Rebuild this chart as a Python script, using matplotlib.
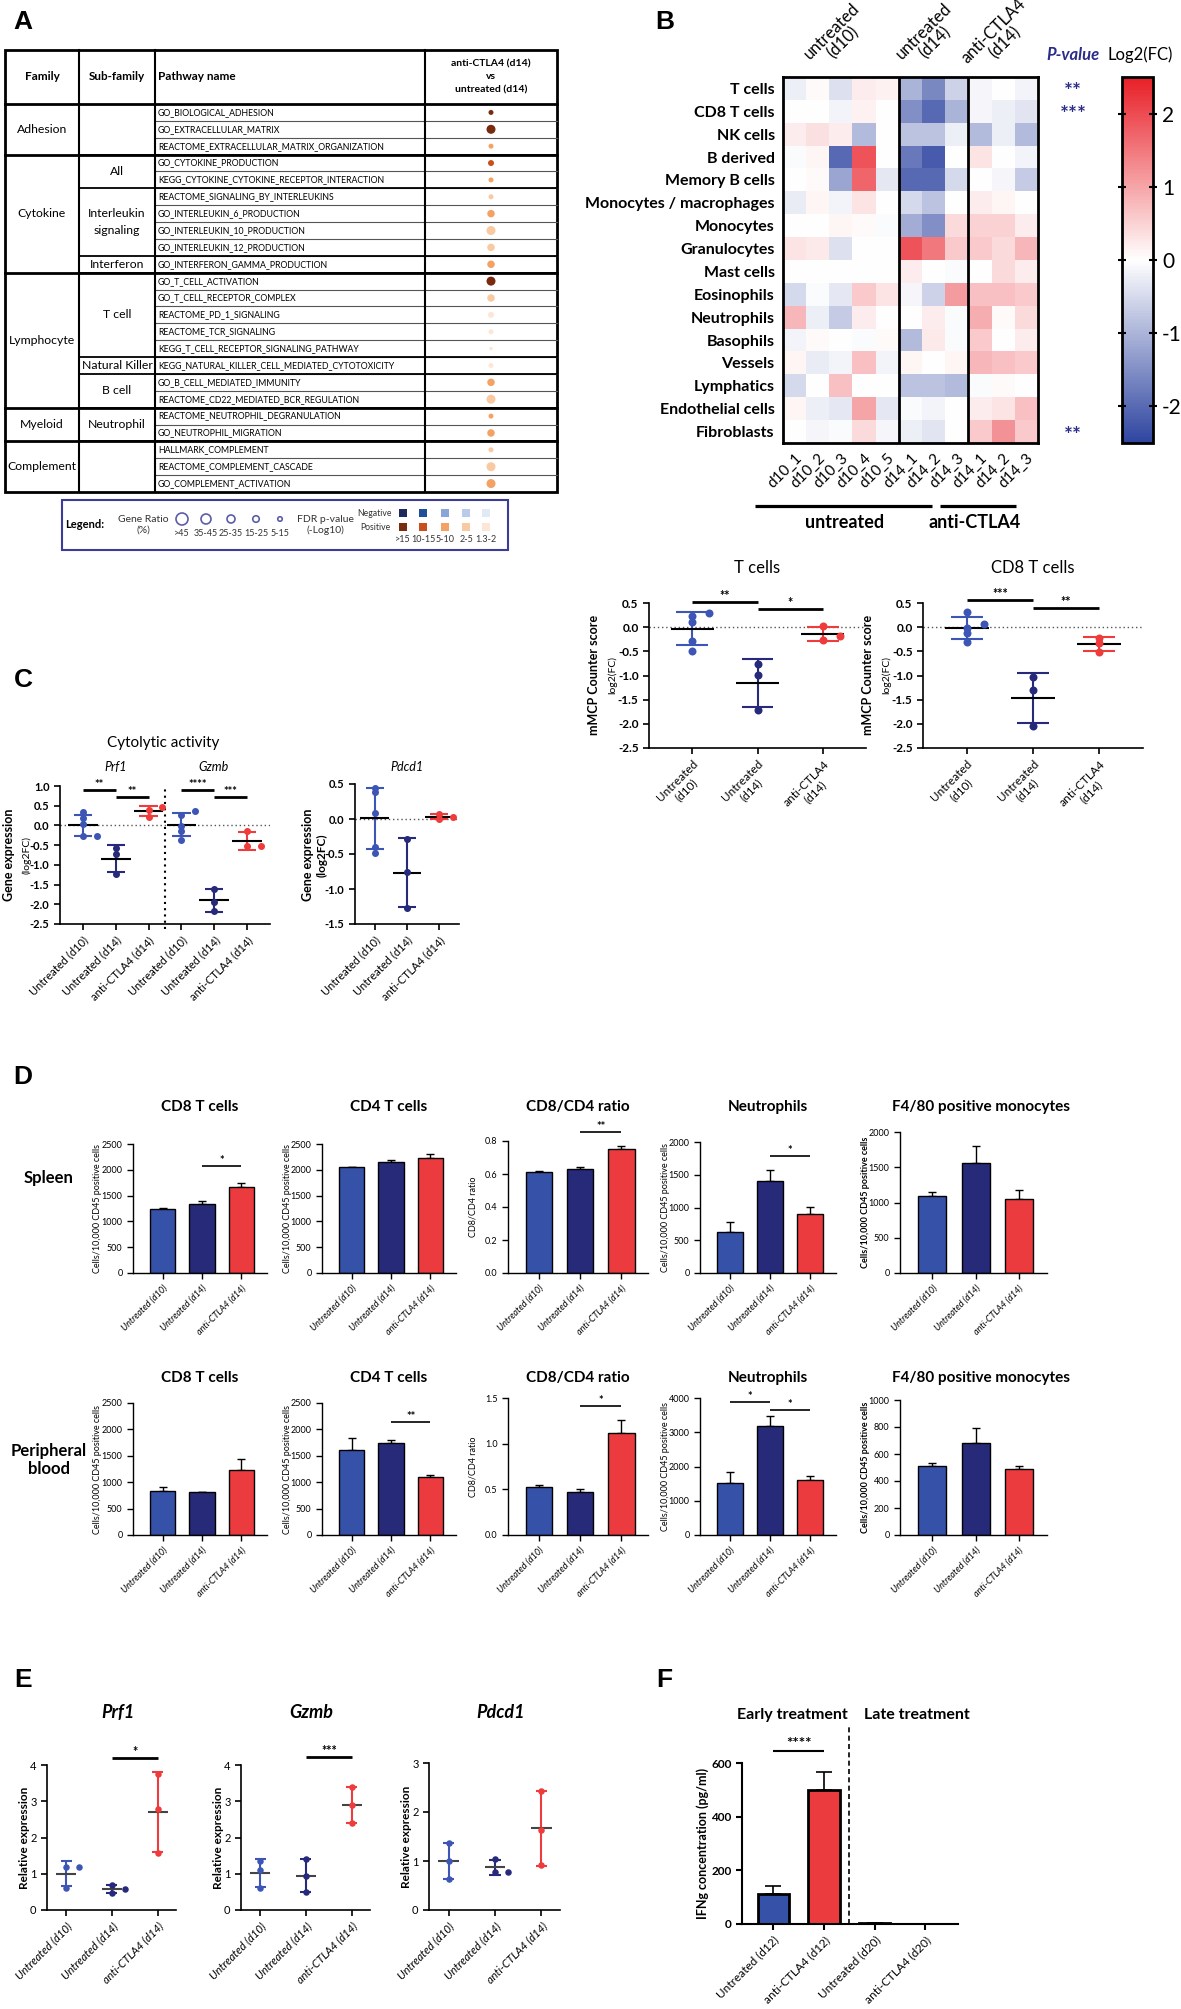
import numpy as np
import matplotlib
matplotlib.use('Agg')
import matplotlib.pyplot as plt
from matplotlib.colors import LinearSegmentedColormap
from matplotlib.patches import Rectangle

plt.rcParams['font.family'] = ['Lato', 'DejaVu Sans']
plt.rcParams['axes.unicode_minus'] = False

# ---------------- data ----------------
# panel A
families = ['Adhesion', 'Cytokine', 'Lymphocyte', 'Myeloid', 'Complement']
family_rows = [3, 7, 8, 2, 3]
subfamilies = ['', 'All', 'Interleukin\nsignaling', 'Interferon', 'T cell', 'Natural Killer', 'B cell', 'Neutrophil', '']
subfamily_rows = [3, 2, 4, 1, 5, 1, 2, 2, 3]
pathways = ['GO_BIOLOGICAL_ADHESION', 'GO_EXTRACELLULAR_MATRIX', 'REACTOME_EXTRACELLULAR_MATRIX_ORGANIZATION',
            'GO_CYTOKINE_PRODUCTION', 'KEGG_CYTOKINE_CYTOKINE_RECEPTOR_INTERACTION',
            'REACTOME_SIGNALING_BY_INTERLEUKINS', 'GO_INTERLEUKIN_6_PRODUCTION', 'GO_INTERLEUKIN_10_PRODUCTION',
            'GO_INTERLEUKIN_12_PRODUCTION', 'GO_INTERFERON_GAMMA_PRODUCTION', 'GO_T_CELL_ACTIVATION',
            'GO_T_CELL_RECEPTOR_COMPLEX', 'REACTOME_PD_1_SIGNALING', 'REACTOME_TCR_SIGNALING',
            'KEGG_T_CELL_RECEPTOR_SIGNALING_PATHWAY', 'KEGG_NATURAL_KILLER_CELL_MEDIATED_CYTOTOXICITY',
            'GO_B_CELL_MEDIATED_IMMUNITY', 'REACTOME_CD22_MEDIATED_BCR_REGULATION',
            'REACTOME_NEUTROPHIL_DEGRANULATION', 'GO_NEUTROPHIL_MIGRATION', 'HALLMARK_COMPLEMENT',
            'REACTOME_COMPLEMENT_CASCADE', 'GO_COMPLEMENT_ACTIVATION']
gene_ratio_class = [3, 0, 3, 2, 3, 3, 1, 0, 1, 1, 0, 1, 2, 3, 4, 3, 1, 0, 3, 1, 3, 0, 0]
fdr_class = [0, 0, 2, 1, 2, 3, 2, 3, 3, 2, 0, 3, 4, 4, 4, 4, 2, 3, 2, 2, 3, 3, 2]
ratio_labels = ['>45', '35-45', '25-35', '15-25', '5-15']
fdr_labels = ['>15', '10-15', '5-10', '2-5', '1.3-2']
pos_colors = ['#7a2a0e', '#c9501d', '#f4a263', '#f9c9a1', '#fde6d6']
neg_colors = ['#1d2a5e', '#1f4e9c', '#8aa6d8', '#b9cbe9', '#e1e9f6']

# panel B heatmap
cell_types = ['T cells', 'CD8 T cells', 'NK cells', 'B derived', 'Memory B cells', 'Monocytes / macrophages',
              'Monocytes', 'Granulocytes', 'Mast cells', 'Eosinophils', 'Neutrophils', 'Basophils',
              'Vessels', 'Lymphatics', 'Endothelial cells', 'Fibroblasts']
samples = ['d10_1', 'd10_2', 'd10_3', 'd10_4', 'd10_5', 'd14_1', 'd14_2', 'd14_3', 'd14_1', 'd14_2', 'd14_3']
sample_groups = ['untreated\n(d10)', 'untreated\n(d14)', 'anti-CTLA4\n(d14)']
group_sizes = [5, 3, 3]
log2fc = [
    [-0.2, 0.05, -0.4, 0.2, 0.15, -1.0, -1.6, -0.6, -0.1, 0.0, -0.15],
    [0.0, 0.0, -0.15, 0.15, 0.0, -1.5, -2.0, -1.0, -0.1, -0.2, -0.35],
    [0.2, 0.35, 0.2, -0.9, 0.0, -0.8, -0.8, -0.2, -0.9, -0.2, -0.9],
    [-0.05, 0.1, -2.0, 1.9, 0.0, -1.8, -2.2, 0.0, 0.3, 0.0, -0.15],
    [0.0, 0.05, -1.2, 1.7, -0.3, -2.0, -2.0, -0.5, 0.0, -0.1, -0.7],
    [-0.25, 0.1, -0.15, 0.3, 0.0, -0.5, -0.8, 0.0, 0.2, 0.1, 0.0],
    [0.0, 0.0, 0.1, 0.05, -0.05, -1.1, -1.5, 0.4, 0.5, 0.5, 0.2],
    [0.3, 0.25, -0.4, 0.0, 0.0, 1.9, 1.5, 0.6, 0.6, 0.4, 0.8],
    [0.0, 0.0, 0.0, 0.0, 0.0, 0.2, 0.0, -0.05, 0.0, 0.4, 0.2],
    [-0.5, -0.05, -0.3, 0.6, 0.3, -0.1, -0.6, 1.1, 0.7, 0.7, 0.6],
    [0.8, -0.2, -0.7, 0.2, 0.0, 0.0, 0.2, -0.05, 0.9, 0.05, 0.4],
    [-0.15, 0.05, 0.0, -0.05, 0.05, -0.9, 0.25, -0.05, 0.6, 0.0, 0.2],
    [0.1, -0.25, -0.15, 0.7, -0.15, 0.1, 0.0, 0.1, 0.8, 0.7, 0.6],
    [-0.5, 0.0, 0.7, 0.0, 0.0, -0.8, -0.8, -0.9, -0.05, 0.05, 0.0],
    [0.1, -0.2, -0.3, 1.0, -0.3, -0.05, -0.15, 0.0, 0.2, 0.3, 0.7],
    [0.0, -0.1, -0.05, 0.4, -0.1, -0.2, -0.35, 0.0, 0.6, 1.2, 0.6],
]
cell_pvalue = ['**', '***', '', '', '', '', '', '', '', '', '', '', '', '', '', '**']

# panel B lower (mMCP counter, log2FC)
tcell_scores = [[0.30, 0.23, 0.10, -0.28, -0.49], [-0.77, -0.98, -1.71], [0.02, -0.18, -0.27]]
cd8_scores = [[0.31, 0.07, -0.02, -0.13, -0.31], [-1.03, -1.31, -2.04], [-0.22, -0.33, -0.51]]
group_labels_2l = ['Untreated\n(d10)', 'Untreated\n(d14)', 'anti-CTLA4\n(d14)']

# panel C (gene expression log2FC)
prf1_c = [[0.33, 0.18, 0.03, -0.27, -0.27], [-0.57, -0.73, -1.22], [0.46, 0.40, 0.22]]
gzmb_c = [[0.37, 0.26, -0.02, -0.14, -0.37], [-1.60, -1.95, -2.16], [-0.14, -0.52, -0.52]]
pdcd1_c = [[0.45, 0.38, 0.09, -0.40, -0.48], [-0.28, -0.75, -1.27], [0.07, 0.03, 0.0]]
group_labels = ['Untreated (d10)', 'Untreated (d14)', 'anti-CTLA4 (d14)']

# panel D (cells / 10,000 CD45+ cells, mean and SEM)
d_titles = ['CD8 T cells', 'CD4 T cells', 'CD8/CD4 ratio', 'Neutrophils', 'F4/80 positive monocytes']
spleen_mean = [[1250, 1335, 1670], [2045, 2150, 2235], [0.615, 0.628, 0.753], [625, 1405, 900], [1095, 1565, 1050]]
spleen_sem = [[15, 55, 80], [10, 45, 75], [0.006, 0.015, 0.015], [155, 165, 110], [55, 230, 125]]
blood_mean = [[840, 810, 1230], [1605, 1740, 1095], [0.53, 0.47, 1.12], [1520, 3170, 1620], [510, 680, 490]]
blood_sem = [[75, 12, 210], [230, 60, 40], [0.02, 0.03, 0.14], [330, 290, 110], [25, 110, 20]]
spleen_sig = [[(1, 2, 2080, '*')], [], [(1, 2, 0.855, '**')], [(1, 2, 1780, '*')], []]
blood_sig = [[], [(1, 2, 2140, '**')], [(1, 2, 1.41, '*')], [(0, 1, 3890, '*'), (1, 2, 3640, '*')], []]

# panel E (relative expression)
prf1_e = [[1.2, 1.2, 0.6], [0.68, 0.58, 0.46], [3.74, 2.8, 1.56]]
gzmb_e = [[1.35, 1.1, 0.6], [1.4, 0.95, 0.5], [3.4, 2.9, 2.39]]
pdcd1_e = [[1.36, 1.0, 0.63], [1.05, 0.78, 0.78], [2.43, 1.64, 0.92]]

# panel F (IFNg pg/ml)
f_labels = ['Untreated (d12)', 'anti-CTLA4 (d12)', 'Untreated (d20)', 'anti-CTLA4 (d20)']
ifng_mean = [110, 500, 3, 0]
ifng_sem = [32, 65, 0, 0]

C_D10, C_D14, C_ANTI = '#3d56b5', '#27297a', '#ee3b3b'
grp_colors = [C_D10, C_D14, C_ANTI]

# ---------------- figure ----------------
W, H = 1181, 2009
fig = plt.figure(figsize=(W / 100, H / 100), dpi=100)


def add_ax(x0, y0, x1, y1):
    return fig.add_axes([x0 / W, 1 - y1 / H, (x1 - x0) / W, (y1 - y0) / H])


# overlay in pixel coordinates for table, labels and annotations (drawn on top, transparent)
bg = fig.add_axes([0, 0, 1, 1])
bg.set_xlim(0, W)
bg.set_ylim(H, 0)
bg.axis('off')
bg.patch.set_visible(False)
bg.set_zorder(10)

for lab, x, y in [('A', 23, 22), ('B', 665, 22), ('C', 23, 680), ('D', 23, 1077), ('E', 23, 1680), ('F', 664, 1680)]:
    bg.text(x, y, lab, fontsize=19, fontweight='bold', ha='center', va='center', family='Liberation Sans')


def px_s(d):
    # marker diameter in pixels -> scatter size
    return (d * 0.72) ** 2


# ---------------- panel A ----------------
cx = [5, 79, 155, 425, 557]
t_top, h_bot, t_bot = 50, 104, 492
n = len(pathways)
rh = (t_bot - h_bot) / n


def ry(i):
    return h_bot + i * rh


for i in range(1, n):
    bg.plot([cx[2], cx[4]], [ry(i)] * 2, color='#555555', lw=0.8)
for c in np.cumsum(subfamily_rows)[:-1]:
    bg.plot([cx[1], cx[4]], [ry(c)] * 2, color='black', lw=1.3)
for c in np.cumsum(family_rows)[:-1]:
    bg.plot([cx[0], cx[4]], [ry(c)] * 2, color='black', lw=2)
bg.plot([cx[0], cx[4]], [h_bot] * 2, color='black', lw=2)
for x in cx[1:4]:
    bg.plot([x, x], [t_top, t_bot], color='black', lw=1.5)
bg.add_patch(Rectangle((cx[0], t_top), cx[4] - cx[0], t_bot - t_top, fill=False, lw=2, ec='black'))

hy = (t_top + h_bot) / 2
bg.text((cx[0] + cx[1]) / 2, hy, 'Family', ha='center', va='center', fontsize=8.5, fontweight='bold')
bg.text((cx[1] + cx[2]) / 2, hy, 'Sub-family', ha='center', va='center', fontsize=8.5, fontweight='bold')
bg.text(cx[2] + 3, hy, 'Pathway name', ha='left', va='center', fontsize=8.5, fontweight='bold')
bg.text((cx[3] + cx[4]) / 2, hy, 'anti-CTLA4 (d14)\nvs\nuntreated (d14)', ha='center', va='center',
        fontsize=7.5, fontweight='bold', linespacing=1.6)

start = 0
for name, k in zip(families, family_rows):
    bg.text((cx[0] + cx[1]) / 2, ry(start + k / 2), name, ha='center', va='center', fontsize=8.8)
    start += k
start = 0
for name, k in zip(subfamilies, subfamily_rows):
    bg.text((cx[1] + cx[2]) / 2, ry(start + k / 2), name, ha='center', va='center', fontsize=8.8, linespacing=1.6)
    start += k
ratio_px = [9, 7.5, 6, 5, 3.5]
for i, name in enumerate(pathways):
    bg.text(cx[2] + 3, ry(i + 0.5), name, ha='left', va='center', fontsize=6.3)
bg.scatter([(cx[3] + cx[4]) / 2] * n, [ry(i + 0.5) for i in range(n)],
           s=[px_s(ratio_px[c]) for c in gene_ratio_class], c=[pos_colors[c] for c in fdr_class],
           edgecolors='none', zorder=3)

# legend box
bg.add_patch(Rectangle((62, 500), 446, 50, fill=False, lw=1.5, ec='#3b3b98'))
bg.text(85, 525, 'Legend:', ha='center', va='center', fontsize=8, fontweight='bold')
bg.text(143, 525, 'Gene Ratio\n(%)', ha='center', va='center', fontsize=7.5, color='#333333')
leg_px = [12, 10, 8, 6.5, 4.5]
lx = [182, 206, 231, 256, 280]
bg.scatter(lx, [519] * 5, s=[px_s(d) for d in leg_px], facecolors='none', edgecolors='#5b5ea6', lw=1.2)
for x, t in zip(lx, ratio_labels):
    bg.text(x, 534, t, ha='center', va='center', fontsize=6.5, color='#333333')
bg.text(325, 525, 'FDR p-value\n(-Log10)', ha='center', va='center', fontsize=7.5, color='#333333')
bg.text(375, 513, 'Negative', ha='center', va='center', fontsize=6.2, color='#333333')
bg.text(375, 527, 'Positive', ha='center', va='center', fontsize=6.2, color='#333333')
sx = [403, 423, 445, 466, 486]
bg.scatter(sx, [513] * 5, s=px_s(8), marker='s', c=neg_colors, edgecolors='none')
bg.scatter(sx, [527] * 5, s=px_s(8), marker='s', c=pos_colors, edgecolors='none')
for x, t in zip(sx, fdr_labels):
    bg.text(x, 540, t, ha='center', va='center', fontsize=6.5, color='#333333')

# ---------------- panel B heatmap ----------------
hx0, hy0, hx1, hy1 = 783, 77, 1038, 443
axH = add_ax(hx0, hy0, hx1, hy1)
cmap = LinearSegmentedColormap.from_list('bwr2', ['#2f45a0', '#ffffff', '#e81f27'])
im = axH.imshow(np.array(log2fc), cmap=cmap, vmin=-2.5, vmax=2.5, aspect='auto', interpolation='nearest')
axH.set_yticks(range(len(cell_types)))
axH.set_yticklabels(cell_types, fontsize=11.5, fontweight='bold')
axH.set_xticks(range(len(samples)))
axH.set_xticklabels(samples, rotation=45, ha='right', rotation_mode='anchor', fontsize=11)
axH.tick_params(length=0, pad=6)
for s in axH.spines.values():
    s.set_linewidth(2)
edges = np.cumsum(group_sizes)
for e in edges[:-1]:
    axH.axvline(e - 0.5, color='black', lw=2)
cw = (hx1 - hx0) / len(samples)
chh = (hy1 - hy0) / len(cell_types)
st = 0
for g, k in zip(sample_groups, group_sizes):
    bg.text(hx0 + (st + k / 2) * cw - 4, 37, g, rotation=45, ha='center', va='center', fontsize=12,
            linespacing=1.0, multialignment='center')
    st += k
bg.text(1073, 55, 'P-value', ha='center', va='center', fontsize=12, fontweight='bold', fontstyle='italic',
        color='#2b2d8a')
bg.text(1140, 55, 'Log2(FC)', ha='center', va='center', fontsize=12)
for i, p in enumerate(cell_pvalue):
    if p:
        bg.text(1073, hy0 + (i + 0.5) * chh + 4, p, ha='center', va='center', fontsize=15, fontweight='bold',
                color='#2b2d8a')
cax = add_ax(1122, 77, 1153, 443)
cb = fig.colorbar(im, cax=cax, ticks=[-2, -1, 0, 1, 2])
cb.outline.set_linewidth(2)
cax.tick_params(labelsize=15, length=6, width=1.5, left=True, right=True, direction='inout')
# group underlines
bg.plot([755, 932], [506, 506], color='black', lw=2.3, solid_capstyle='butt')
bg.plot([940, 1016], [506, 506], color='black', lw=2.3, solid_capstyle='butt')
bg.text(845, 522, 'untreated', ha='center', va='center', fontsize=13, fontweight='bold')
bg.text(975, 522, 'anti-CTLA4', ha='center', va='center', fontsize=13, fontweight='bold')


# ---------------- helpers for dot plots ----------------
def swarm(v, dy, dx):
    off = np.zeros(len(v))
    done = []
    for i in np.argsort(v):
        for k in [0, 1, -1, 2, -2]:
            if all(abs(v[i] - v[j]) >= dy or abs(k * dx - off[j]) >= dx * 0.9 for j in done):
                off[i] = k * dx
                break
        done.append(i)
    return off


def dot_groups(ax, groups, xs, colors, dy, dx, cap=0.24, mean_w=0.33, ms=7, lw=1.5, mean_color='black'):
    for x, vals, col in zip(xs, groups, colors):
        v = np.asarray(vals, float)
        m, sd = v.mean(), v.std(ddof=1)
        ax.vlines(x, m - sd, m + sd, color=col, lw=lw, zorder=2)
        ax.hlines([m - sd, m + sd], x - cap, x + cap, color=col, lw=lw, zorder=2)
        ax.hlines(m, x - mean_w, x + mean_w, color=mean_color, lw=lw, zorder=3)
        ax.plot(x + swarm(v, dy, dx), v, 'o', color=col, ms=ms * 0.72, mec='none', zorder=4)


def sig(ax, x1, x2, y, txt, lw=2.0, fs=9):
    ax.plot([x1, x2], [y, y], color='black', lw=lw, clip_on=False, solid_capstyle='butt')
    ax.text((x1 + x2) / 2, y, txt, ha='center', va='bottom', fontsize=fs, fontweight='bold', clip_on=False)


def style(ax, fs=8, bold=True, lw=1.2):
    for s in ['top', 'right']:
        ax.spines[s].set_visible(False)
    for s in ['left', 'bottom']:
        ax.spines[s].set_linewidth(lw)
    ax.tick_params(labelsize=fs, width=lw, length=4)
    if bold:
        for lab in ax.get_yticklabels():
            lab.set_fontweight('bold')


# ---------------- panel B lower ----------------
for data, title, (x0, x1), sigs in [
        (tcell_scores, 'T cells', (649, 866), [(0, 1, 0.52, '**'), (1, 2, 0.38, '*')]),
        (cd8_scores, 'CD8 T cells', (923, 1143), [(0, 1, 0.56, '***'), (1, 2, 0.39, '**')])]:
    ax = add_ax(x0, 603, x1, 748)
    ax.set_xlim(-0.66, 2.66)
    ax.set_ylim(-2.5, 0.5)
    ax.axhline(0, color='#555555', ls=(0, (1, 2)), lw=1, zorder=1)
    dot_groups(ax, data, [0, 1, 2], grp_colors, dy=0.1, dx=0.26, ms=8)
    ax.set_yticks(np.arange(-2.5, 0.51, 0.5))
    ax.set_xticks([0, 1, 2])
    ax.set_xticklabels(group_labels_2l, rotation=45, ha='right', rotation_mode='anchor', fontsize=8,
                       multialignment='center')
    style(ax, fs=8.5)
    for a, b, y, t in sigs:
        sig(ax, a, b, y, t)
    bg.text((x0 + x1) / 2, 568, title, ha='center', va='center', fontsize=12)
    bg.text(x0 - 55, 675, 'mMCP Counter score', rotation=90, ha='center', va='center', fontsize=9,
            fontweight='bold')
    bg.text(x0 - 37, 675, 'log2(FC)', rotation=90, ha='center', va='center', fontsize=7.5)

# ---------------- panel C ----------------
axC = add_ax(60, 786, 270, 924)
axC.set_xlim(-0.7, 5.7)
axC.set_ylim(-2.5, 1.0)
axC.axhline(0, color='#555555', ls=(0, (1, 2)), lw=1, zorder=1)
axC.plot([2.5, 2.5], [-2.62, 1.0], color='black', ls=(0, (1, 2)), lw=1.5, clip_on=False)
dot_groups(axC, prf1_c + gzmb_c, range(6), grp_colors * 2, dy=0.12, dx=0.42, cap=0.28, mean_w=0.45, ms=7)
axC.set_yticks(np.arange(-2.5, 1.01, 0.5))
axC.set_xticks(range(6))
axC.set_xticklabels(group_labels * 2, rotation=45, ha='right', rotation_mode='anchor', fontsize=5.5)
style(axC, fs=8)
for a, b, y, t in [(0, 1, 0.9, '**'), (1, 2, 0.73, '**'), (3, 4, 0.9, '****'), (4, 5, 0.73, '***')]:
    sig(axC, a, b, y, t, fs=8)
bg.text(163, 743, 'Cytolytic activity', ha='center', va='center', fontsize=11)
bg.text(116, 767, 'Prf1', ha='center', va='center', fontsize=9, fontstyle='italic')
bg.text(214, 767, 'Gzmb', ha='center', va='center', fontsize=9, fontstyle='italic')
bg.text(9, 855, 'Gene expression', rotation=90, ha='center', va='center', fontsize=9, fontweight='bold')
bg.text(27, 855, '(log2FC)', rotation=90, ha='center', va='center', fontsize=7.5)

axP = add_ax(355, 784, 459, 924)
axP.set_xlim(-0.62, 2.62)
axP.set_ylim(-1.5, 0.5)
axP.axhline(0, color='#555555', ls=(0, (1, 2)), lw=1, zorder=1)
dot_groups(axP, pdcd1_c, [0, 1, 2], grp_colors, dy=0.07, dx=0.42, cap=0.28, mean_w=0.45, ms=7)
axP.set_yticks(np.arange(-1.5, 0.51, 0.5))
axP.set_xticks([0, 1, 2])
axP.set_xticklabels(group_labels, rotation=45, ha='right', rotation_mode='anchor', fontsize=5.5)
style(axP, fs=8)
bg.text(407, 767, 'Pdcd1', ha='center', va='center', fontsize=9, fontstyle='italic')
bg.text(308, 855, 'Gene expression', rotation=90, ha='center', va='center', fontsize=9, fontweight='bold')
bg.text(322, 855, '(log2FC)', rotation=90, ha='center', va='center', fontsize=8.5, fontweight='bold')

# ---------------- panel D ----------------
d_x = [(133, 267), (322, 456), (508, 648), (700, 836), (900, 1047)]
spleen_top = [1144, 1144, 1141, 1142, 1132]
blood_top = [1403, 1403, 1398, 1398, 1400]
spleen_yl = [(2500, 500), (2500, 500), (0.8, 0.2), (2000, 500), (2000, 500)]
blood_yl = [(2500, 500), (2500, 500), (1.5, 0.5), (4000, 1000), (1000, 200)]
d_ylabels = ['Cells/10,000 CD45 positive cells'] * 2 + ['CD8/CD4 ratio'] + ['Cells/10,000 CD45 positive cells'] * 2
bar_colors = ['#3652a8', '#262a78', '#ec3b3f']

for row_mean, row_sem, row_sig, tops, bottom, yls, title_y in [
        (spleen_mean, spleen_sem, spleen_sig, spleen_top, 1273, spleen_yl, 1107),
        (blood_mean, blood_sem, blood_sig, blood_top, 1535, blood_yl, 1378)]:
    for j in range(5):
        x0, x1 = d_x[j]
        ax = add_ax(x0, tops[j], x1, bottom)
        ax.bar(range(3), row_mean[j], width=0.65, color=bar_colors, edgecolor='black', lw=1, zorder=2)
        ax.errorbar(range(3), row_mean[j], yerr=[[0] * 3, row_sem[j]], fmt='none', ecolor='black',
                    elinewidth=1, capsize=3, capthick=1, zorder=1)
        top, step = yls[j]
        ax.set_ylim(0, top)
        ax.set_xlim(-0.75, 2.65)
        ticks = np.arange(0, top + step / 2, step)
        ax.set_yticks(ticks)
        if step < 1:
            ax.set_yticklabels([f'{t:.1f}' for t in ticks])
        ax.set_xticks(range(3))
        ax.set_xticklabels(group_labels, rotation=45, ha='right', rotation_mode='anchor', fontsize=7.5,
                           fontstyle='italic')
        style(ax, fs=6.5, bold=False, lw=1)
        for a, b, y, t in row_sig[j]:
            sig(ax, a, b, y, t, lw=1.2, fs=8)
        bg.text((x0 + x1) / 2 + (8 if j == 4 else 0), title_y, d_titles[j], ha='center', va='center',
                fontsize=11, fontweight='bold')
        bg.text(x0 - 35, (tops[j] + bottom) / 2, d_ylabels[j], rotation=90, ha='center', va='center',
                fontsize=6.5, fontweight='bold' if j == 4 else 'normal')
bg.text(49, 1178, 'Spleen', ha='center', va='center', fontsize=12, fontweight='bold')
bg.text(49, 1460, 'Peripheral\nblood', ha='center', va='center', fontsize=12, fontweight='bold')

# ---------------- panel E ----------------
for data, title, (x0, x1), top, sigs, ytop in [
        (prf1_e, 'Prf1', (47, 176), 4, [(1, 2, 4.2, '*')], 1765),
        (gzmb_e, 'Gzmb', (241, 370), 4, [(1, 2, 4.22, '***')], 1765),
        (pdcd1_e, 'Pdcd1', (429, 560), 3, [], 1763)]:
    ax = add_ax(x0, ytop, x1, 1910)
    ax.set_xlim(-0.42, 2.4)
    ax.set_ylim(0, top)
    dot_groups(ax, data, [0, 1, 2], grp_colors, dy=top * 0.045, dx=0.28, cap=0.12, mean_w=0.22, ms=6.5,
               lw=1.5, mean_color='#444444')
    ax.set_yticks(range(top + 1))
    ax.set_xticks([0, 1, 2])
    ax.set_xticklabels(group_labels, rotation=45, ha='right', rotation_mode='anchor', fontsize=8.5,
                       fontstyle='italic')
    style(ax, fs=8, bold=False)
    for a, b, y, t in sigs:
        sig(ax, a, b, y, t, lw=2, fs=9)
    bg.text((x0 + x1) / 2 + 6, 1713, title, ha='center', va='center', fontsize=13, fontweight='bold',
            fontstyle='italic')
    bg.text(x0 - 22, (ytop + 1910) / 2, 'Relative expression', rotation=90, ha='center', va='center',
            fontsize=8.5, fontweight='bold')

# ---------------- panel F ----------------
axF = add_ax(742, 1763, 958, 1924)
axF.bar(range(4), ifng_mean, width=0.62, color=[bar_colors[0], bar_colors[2]] * 2, edgecolor='black', lw=2,
        zorder=2)
axF.errorbar(range(4), ifng_mean, yerr=[[0] * 4, ifng_sem], fmt='none', ecolor='black', elinewidth=1.2,
             capsize=6, capthick=1.2, zorder=1)
axF.set_xlim(-0.62, 3.65)
axF.set_ylim(0, 600)
axF.set_yticks([0, 200, 400, 600])
axF.set_xticks(range(4))
axF.set_xticklabels(f_labels, rotation=45, ha='right', rotation_mode='anchor', fontsize=9)
style(axF, fs=8.5, lw=1.5)
axF.plot([1.5, 1.5], [0, 740], color='black', ls=(0, (3, 2)), lw=1.2, clip_on=False)
sig(axF, 0, 1, 644, '****', lw=1.5, fs=11)
bg.text(848, 1715, 'Early treatment', ha='right', va='center', fontsize=11.5, fontweight='bold')
bg.text(864, 1715, 'Late treatment', ha='left', va='center', fontsize=11.5, fontweight='bold')
bg.text(703, 1843, 'IFNg concentration (pg/ml)', rotation=90, ha='center', va='center', fontsize=9,
        fontweight='bold')

fig.savefig('out.png', dpi=100)
